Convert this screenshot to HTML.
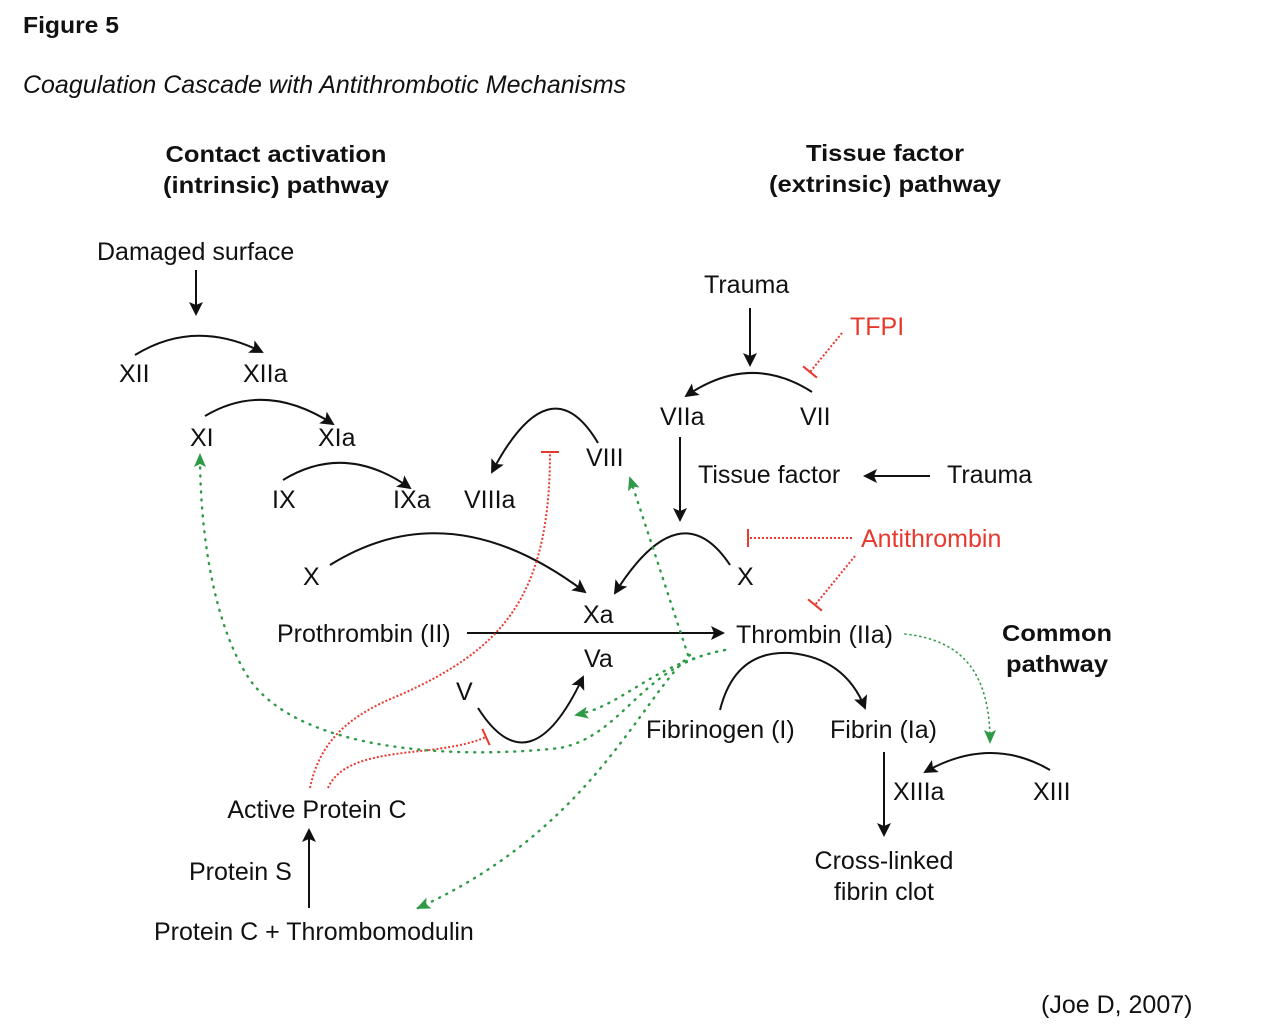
<!DOCTYPE html>
<html><head><meta charset="utf-8"><style>
html,body{margin:0;padding:0;background:#fff;}
svg{display:block;font-family:"Liberation Sans",Arial,sans-serif;}
text{fill:#111;font-size:25px;}
.b{font-weight:bold;font-size:23px;}
.r{fill:#e8392f;}
</style></head><body>
<svg width="1268" height="1036" viewBox="0 0 1268 1036" xmlns="http://www.w3.org/2000/svg">
<defs>
<marker id="a" markerWidth="14" markerHeight="14" refX="12" refY="7" orient="auto" markerUnits="userSpaceOnUse"><path d="M0,0 L14,7 L0,14 L3,7 z" fill="#111"/></marker>
<marker id="g" markerWidth="14" markerHeight="14" refX="12" refY="7" orient="auto" markerUnits="userSpaceOnUse"><path d="M0,1 L14,7 L0,13 L3,7 z" fill="#2e9a45"/></marker>
<marker id="t" markerWidth="4" markerHeight="18" refX="2" refY="9" orient="auto" markerUnits="userSpaceOnUse"><path d="M2,0 L2,18" stroke="#e8392f" stroke-width="2"/></marker>
</defs>
<text x="23" y="33" class="b" textLength="96" lengthAdjust="spacingAndGlyphs">Figure 5</text>
<text x="23" y="93" font-style="italic" textLength="603" lengthAdjust="spacingAndGlyphs">Coagulation Cascade with Antithrombotic Mechanisms</text>
<text x="276" y="162" class="b" text-anchor="middle" textLength="221" lengthAdjust="spacingAndGlyphs">Contact activation</text>
<text x="276" y="193" class="b" text-anchor="middle" textLength="226" lengthAdjust="spacingAndGlyphs">(intrinsic) pathway</text>
<text x="885" y="161" class="b" text-anchor="middle" textLength="158" lengthAdjust="spacingAndGlyphs">Tissue factor</text>
<text x="885" y="192" class="b" text-anchor="middle" textLength="232" lengthAdjust="spacingAndGlyphs">(extrinsic) pathway</text>
<text x="1057" y="641" class="b" text-anchor="middle" textLength="110" lengthAdjust="spacingAndGlyphs">Common</text>
<text x="1057" y="672" class="b" text-anchor="middle" textLength="102" lengthAdjust="spacingAndGlyphs">pathway</text>

<g fill="none" stroke="#111" stroke-width="2">
<path d="M196,270 L196,314" marker-end="url(#a)"/>
<path d="M135,355 Q195,318 262,352" marker-end="url(#a)"/>
<path d="M205,416 Q265,380 333,424" marker-end="url(#a)"/>
<path d="M283,480 Q345,442 410,488" marker-end="url(#a)"/>
<path d="M598,443 Q550,362 492,472" marker-end="url(#a)"/>
<path d="M330,565 Q450,490 585,592" marker-end="url(#a)"/>
<path d="M467,633 L723,633" marker-end="url(#a)"/>
<path d="M478,708 Q530,790 583,677" marker-end="url(#a)"/>
<path d="M750,308 L750,365" marker-end="url(#a)"/>
<path d="M812,392 Q750,352 686,396" marker-end="url(#a)"/>
<path d="M680,437 L680,520" marker-end="url(#a)"/>
<path d="M930,476 L865,476" marker-end="url(#a)"/>
<path d="M730,565 Q680,490 615,593" marker-end="url(#a)"/>
<path d="M720,710 Q735,650 790,653 Q845,658 865,708" marker-end="url(#a)"/>
<path d="M1050,770 Q990,735 925,772" marker-end="url(#a)"/>
<path d="M884,752 L884,835" marker-end="url(#a)"/>
<path d="M309,908 L309,830" marker-end="url(#a)"/>
</g>

<g fill="none" stroke="#e8392f" stroke-width="2" stroke-dasharray="2,2">
<path d="M842,333 L810,372" marker-end="url(#t)"/>
<path d="M852,538 L748,538" marker-end="url(#t)"/>
<path d="M855,556 L815,605" marker-end="url(#t)"/>
<path d="M310,788 C320,740 350,715 400,695 C500,650 550,600 550,452" marker-end="url(#t)"/>
<path d="M328,788 C340,760 380,755 430,750 C460,746 475,742 486,737" marker-end="url(#t)"/>
</g>

<g fill="none" stroke="#2e9a45" stroke-width="2.4" stroke-dasharray="1,7" stroke-linecap="round">
<path d="M905,634 C960,640 990,670 990,742" marker-end="url(#g)" stroke-width="1.6" stroke-dasharray="1,4"/>
<path d="M725,650 C640,665 625,735 560,748 C450,760 300,750 250,680 C210,620 200,520 200,455" marker-end="url(#g)"/>
<path d="M725,650 C650,665 625,705 576,715" marker-end="url(#g)"/>
<path d="M688,655 L630,478" marker-end="url(#g)"/>
<path d="M690,655 C640,700 590,830 418,908" marker-end="url(#g)"/>
</g>

<text x="97" y="260">Damaged surface</text>
<text x="119" y="382">XII</text>
<text x="243" y="382">XIIa</text>
<text x="190" y="446">XI</text>
<text x="318" y="446">XIa</text>
<text x="272" y="508">IX</text>
<text x="393" y="508">IXa</text>
<text x="464" y="508">VIIIa</text>
<text x="586" y="466">VIII</text>
<text x="303" y="585">X</text>
<text x="583" y="623">Xa</text>
<text x="584" y="667">Va</text>
<text x="277" y="642">Prothrombin (II)</text>
<text x="736" y="643">Thrombin (IIa)</text>
<text x="456" y="700">V</text>
<text x="704" y="293">Trauma</text>
<text x="850" y="335" class="r">TFPI</text>
<text x="660" y="425">VIIa</text>
<text x="800" y="425">VII</text>
<text x="698" y="483">Tissue factor</text>
<text x="947" y="483">Trauma</text>
<text x="737" y="585">X</text>
<text x="861" y="547" class="r">Antithrombin</text>
<text x="646" y="738">Fibrinogen (I)</text>
<text x="830" y="738">Fibrin (Ia)</text>
<text x="893" y="800">XIIIa</text>
<text x="1033" y="800">XIII</text>
<text x="884" y="869" text-anchor="middle">Cross-linked</text>
<text x="884" y="900" text-anchor="middle">fibrin clot</text>
<text x="317" y="818" text-anchor="middle">Active Protein C</text>
<text x="189" y="880">Protein S</text>
<text x="154" y="940">Protein C + Thrombomodulin</text>
<text x="1041" y="1013">(Joe D, 2007)</text>
</svg>
</body></html>
